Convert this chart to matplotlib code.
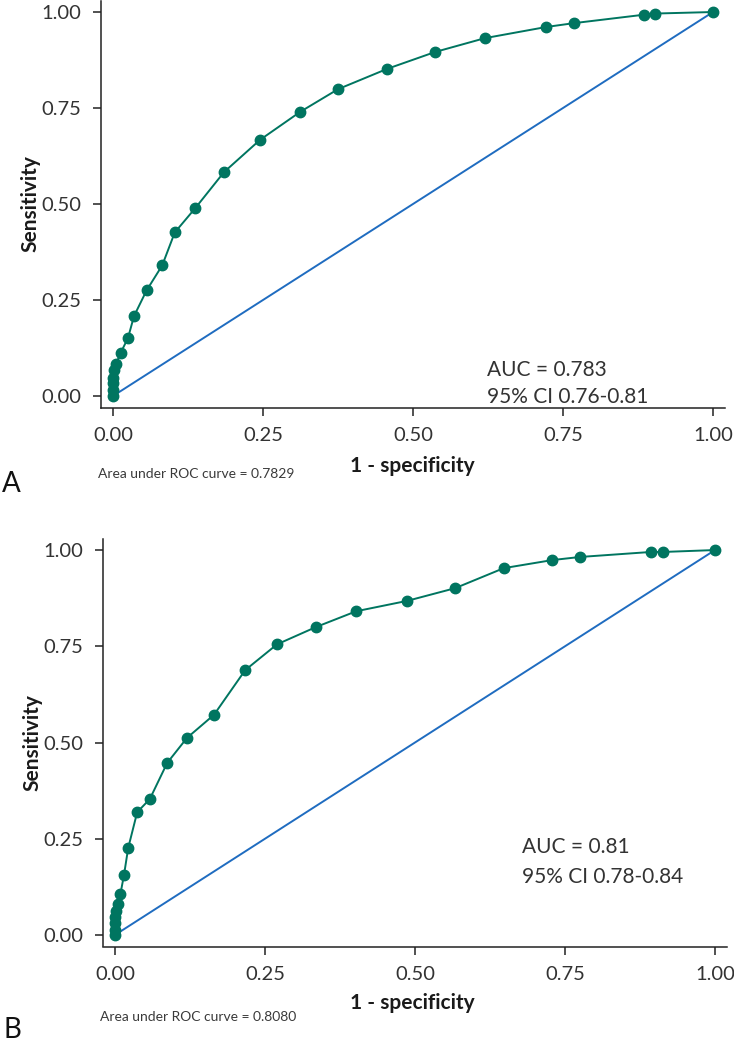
import matplotlib
matplotlib.use("Agg")
import matplotlib.pyplot as plt

plt.rcParams['font.family'] = ['Lato', 'DejaVu Sans']

# panel A data (1 - specificity, sensitivity)
fpr_a = [0.0, 0.0, 0.0, 0.0, 0.001, 0.005, 0.013, 0.025, 0.035, 0.056, 0.082,
         0.103, 0.137, 0.185, 0.245, 0.312, 0.375, 0.457, 0.537, 0.620, 0.722,
         0.768, 0.885, 0.903, 1.0]
tpr_a = [0.0, 0.016, 0.034, 0.048, 0.068, 0.083, 0.113, 0.151, 0.208, 0.275, 0.340,
         0.426, 0.489, 0.583, 0.667, 0.740, 0.799, 0.852, 0.896, 0.932, 0.961,
         0.971, 0.993, 0.996, 1.0]

# panel B data
fpr_b = [0.0, 0.0, 0.0, 0.0, 0.002, 0.005, 0.009, 0.015, 0.022, 0.037, 0.058,
         0.087, 0.120, 0.165, 0.217, 0.270, 0.335, 0.402, 0.487, 0.567, 0.648,
         0.729, 0.775, 0.893, 0.913, 1.0]
tpr_b = [0.0, 0.013, 0.030, 0.047, 0.062, 0.080, 0.106, 0.156, 0.226, 0.319, 0.353,
         0.447, 0.512, 0.572, 0.688, 0.755, 0.800, 0.841, 0.868, 0.901, 0.953,
         0.974, 0.982, 0.995, 0.995, 1.0]

ticks = [0.0, 0.25, 0.5, 0.75, 1.0]
tick_labels = ['0.00', '0.25', '0.50', '0.75', '1.00']

panels = [
    dict(fpr=fpr_a, tpr=tpr_a, auc='AUC = 0.783', ci='95% CI 0.76-0.81',
         area='Area under ROC curve = 0.7829', letter='A'),
    dict(fpr=fpr_b, tpr=tpr_b, auc='AUC = 0.81', ci='95% CI 0.78-0.84',
         area='Area under ROC curve = 0.8080', letter='B'),
]

W, H = 734, 1046
fig = plt.figure(figsize=(W / 100, H / 100), dpi=100)

# pixel boxes: left, top, width, height
boxes = [(101, 0.5, 624, 407), (103, 538.5, 624, 408)]
auc_pos = [(487, 370, 397), (522, 847, 877)]
area_pos = [(98, 474), (100, 1017)]
letter_pos = [(2, 484), (3, 1030)]
xlab_y = [466, 1003]

green = '#007560'
blue = '#1f6cc0'
txt = '#333333'

for i, p in enumerate(panels):
    l, t, w, h = boxes[i]
    ax = fig.add_axes([l / W, 1 - (t + h) / H, w / W, h / H])
    ax.plot([0, 1], [0, 1], color=blue, lw=1.4, zorder=2)
    ax.plot(p['fpr'], p['tpr'], color=green, lw=1.4, marker='o', ms=7.5,
            mec=green, mfc=green, zorder=3)
    ax.set_xlim(-0.02, 1.02)
    ax.set_ylim(-0.03, 1.03)
    ax.set_xticks(ticks)
    ax.set_xticklabels(tick_labels)
    ax.set_yticks(ticks)
    ax.set_yticklabels(tick_labels)
    for s in ['top', 'right']:
        ax.spines[s].set_visible(False)
    for s in ['left', 'bottom']:
        ax.spines[s].set_linewidth(1.1)
        ax.spines[s].set_color('#222222')
    ax.tick_params(axis='both', length=6, width=1.1, color='#222222',
                   labelsize=14.5, labelcolor=txt)
    ax.tick_params(axis='x', pad=8)
    ax.tick_params(axis='y', pad=8)
    ax.set_ylabel('Sensitivity', fontsize=15, fontweight='bold', color='#1a1a1a',
                  labelpad=1)

    fig.text(412 / W, 1 - xlab_y[i] / H, '1 - specificity', ha='center', va='center',
             fontsize=15, fontweight='bold', color='#1a1a1a')
    ax_x, y1, y2 = auc_pos[i]
    fig.text(ax_x / W, 1 - y1 / H, p['auc'], ha='left', va='center', fontsize=15,
             color=txt)
    fig.text(ax_x / W, 1 - y2 / H, p['ci'], ha='left', va='center', fontsize=15,
             color=txt)
    fig.text(area_pos[i][0] / W, 1 - area_pos[i][1] / H, p['area'], ha='left',
             va='center', fontsize=10, color='#3a3a3a')
    fig.text(letter_pos[i][0] / W, 1 - letter_pos[i][1] / H, p['letter'], ha='left',
             va='center', fontsize=20, color='#111111')

fig.savefig('out.png', dpi=100)
